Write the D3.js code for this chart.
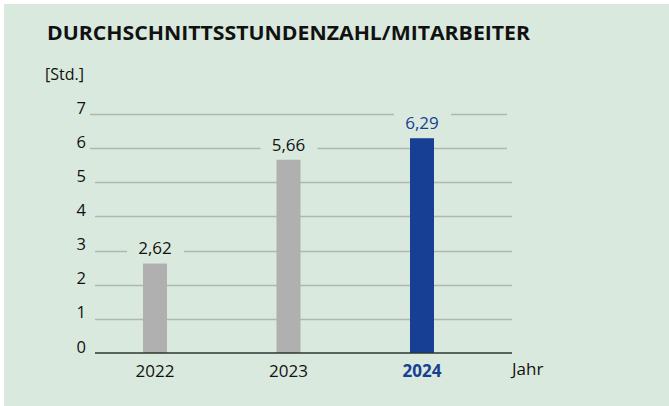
<!DOCTYPE html>
<html>
<head>
<meta charset="utf-8">
<script src="https://cdn.jsdelivr.net/npm/d3@7"></script>
<style>
  body { margin: 0; background: #fff; }
  text { font-family: "Open Sans", "Noto Sans", sans-serif; fill: #111; }
</style>
</head>
<body>
<div id="chart"></div>
<script>
var years = ["2022", "2023", "2024"];
var values = [2.62, 5.66, 6.29];
var valueLabels = ["2,62", "5,66", "6,29"];
var tickValues = [0, 1, 2, 3, 4, 5, 6, 7];

var width = 669, height = 406;
var grey = "#b0b0b0", blue = "#173f93", bg = "#d9e9dd";

var svg = d3.select("#chart")
    .append("svg")
    .attr("width", width)
    .attr("height", height);

// panel
svg.append("rect")
    .attr("x", 4).attr("y", 4)
    .attr("width", width - 4).attr("height", height - 4)
    .attr("fill", bg);

svg.append("text")
    .attr("x", 47).attr("y", 40)
    .style("font-size", "19.5px")
    .style("font-weight", "700")
    .attr("textLength", 483)
    .attr("lengthAdjust", "spacingAndGlyphs")
    .text("DURCHSCHNITTSSTUNDENZAHL/MITARBEITER");

svg.append("text")
    .attr("x", 45).attr("y", 80)
    .style("font-size", "16px")
    .text("[Std.]");

var x = d3.scalePoint()
    .domain(years)
    .range([155, 422]);

var y = d3.scaleLinear()
    .domain([0, 7])
    .range([353, 114]);

var barW = 24;

// gridlines
svg.append("g")
    .selectAll("line")
    .data(tickValues.filter(function(d) { return d > 0; }))
    .enter()
    .append("line")
    .attr("x1", function(d) { return d >= 6 ? 90 : 95; })
    .attr("x2", function(d) { return d >= 6 ? 507 : 512; })
    .attr("y1", function(d) { return Math.round(y(d)) + 0.5; })
    .attr("y2", function(d) { return Math.round(y(d)) + 0.5; })
    .attr("stroke", "#b1b6b1")
    .attr("stroke-width", 1.5);

// tick labels
svg.append("g")
    .selectAll("text")
    .data(tickValues)
    .enter()
    .append("text")
    .attr("x", 86)
    .attr("y", function(d) { return y(d) - 0.5; })
    .attr("text-anchor", "end")
    .style("font-size", "16.5px")
    .text(function(d) { return d; });

// bars
svg.append("g")
    .selectAll("rect")
    .data(values)
    .enter()
    .append("rect")
    .attr("x", function(d, i) { return x(years[i]) - barW / 2; })
    .attr("y", function(d) { return y(d); })
    .attr("width", barW)
    .attr("height", function(d) { return y(0) - y(d); })
    .attr("fill", function(d, i) { return i === 2 ? blue : grey; });

// baseline
svg.append("line")
    .attr("x1", 95).attr("x2", 512)
    .attr("y1", y(0)).attr("y2", y(0))
    .attr("stroke", "#2b3630")
    .attr("stroke-width", 1.5);

// value labels with background knockout
var vl = svg.append("g")
    .selectAll("g")
    .data(values)
    .enter()
    .append("g")
    .attr("transform", function(d, i) { return "translate(" + x(years[i]) + "," + (y(d) - 15) + ")"; });

vl.append("rect")
    .attr("x", -28).attr("y", -11)
    .attr("width", 57).attr("height", 20)
    .attr("fill", bg);

vl.append("text")
    .attr("text-anchor", "middle")
    .attr("dy", "0.35em")
    .style("font-size", "17px")
    .style("fill", function(d, i) { return i === 2 ? blue : "#111"; })
    .text(function(d, i) { return valueLabels[i]; });

// year labels
svg.append("g")
    .selectAll("text")
    .data(years)
    .enter()
    .append("text")
    .attr("x", function(d) { return x(d); })
    .attr("y", 377)
    .attr("text-anchor", "middle")
    .style("font-size", "17px")
    .style("font-weight", function(d, i) { return i === 2 ? "700" : "400"; })
    .style("fill", function(d, i) { return i === 2 ? blue : "#111"; })
    .text(function(d) { return d; });

svg.append("text")
    .attr("x", 512).attr("y", 375)
    .style("font-size", "17px")
    .text("Jahr");
</script>
</body>
</html>
